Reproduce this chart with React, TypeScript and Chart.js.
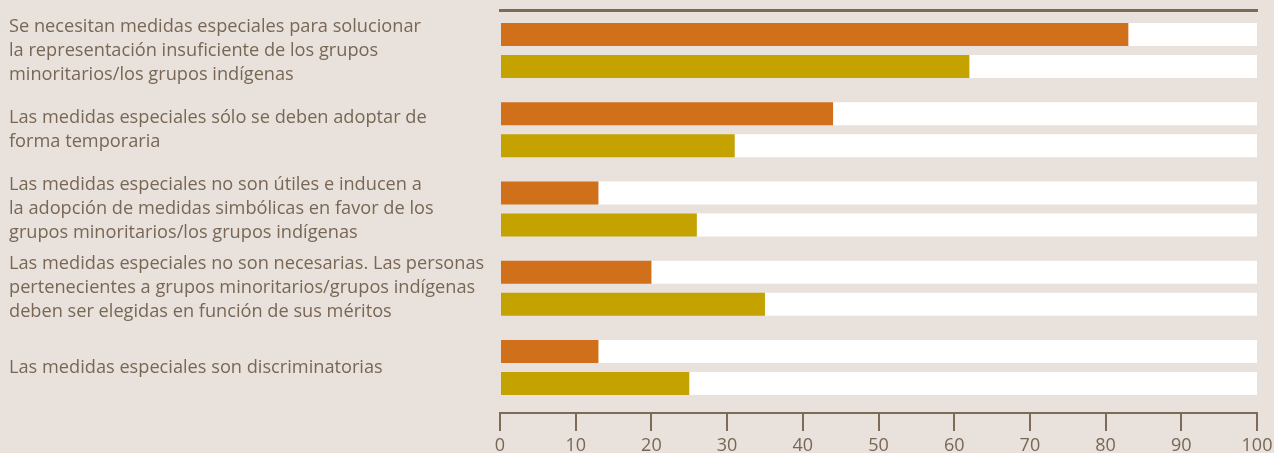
import React, { useEffect, useRef } from "react";
import { Chart, registerables } from "chart.js";

Chart.register(...registerables);

const categories: string[][] = [
  [
    "Se necesitan medidas especiales para solucionar",
    "la representación insuficiente de los grupos",
    "minoritarios/los grupos indígenas",
  ],
  ["Las medidas especiales sólo se deben adoptar de", "forma temporaria"],
  [
    "Las medidas especiales no son útiles e inducen a",
    "la adopción de medidas simbólicas en favor de los",
    "grupos minoritarios/los grupos indígenas",
  ],
  [
    "Las medidas especiales no son necesarias. Las personas",
    "pertenecientes a grupos minoritarios/grupos indígenas",
    "deben ser elegidas en función de sus méritos",
  ],
  ["Las medidas especiales son discriminatorias"],
];

const seriesOrange: number[] = [83, 44, 13, 20, 13];
const seriesGold: number[] = [62, 31, 26, 35, 25];
const scaleMax = 100;
const tickStep = 10;

const BG = "#e9e2dc";
const ORANGE = "#d0701b";
const GOLD = "#c4a300";
const TRACK = "#ffffff";
const TEXT = "#786755";
const AXIS = "#7d6b58";
const FONT = "'Open Sans'";

export default function App() {
  const ref = useRef<HTMLCanvasElement | null>(null);

  useEffect(() => {
    if (!ref.current) return;
    const idx = categories.map((_, i) => i);
    const chart = new Chart(ref.current, {
      type: "bar",
      data: {
        labels: idx,
        datasets: [
          {
            label: "A",
            data: seriesOrange,
            backgroundColor: ORANGE,
            stack: "a",
            borderWidth: 0,
          },
          {
            label: "A-rest",
            data: seriesOrange.map((v) => scaleMax - v),
            backgroundColor: TRACK,
            stack: "a",
            borderWidth: 0,
          },
          {
            label: "B",
            data: seriesGold,
            backgroundColor: GOLD,
            stack: "b",
            borderWidth: 0,
          },
          {
            label: "B-rest",
            data: seriesGold.map((v) => scaleMax - v),
            backgroundColor: TRACK,
            stack: "b",
            borderWidth: 0,
          },
        ],
      },
      options: {
        indexAxis: "y",
        animation: false,
        responsive: false,
        devicePixelRatio: 1,
        categoryPercentage: 0.8076,
        barPercentage: 0.71875,
        layout: { padding: { left: 9, right: 17, top: 10, bottom: 0 } },
        plugins: { legend: { display: false }, tooltip: { enabled: false } },
        scales: {
          x: {
            type: "linear",
            position: "bottom",
            stacked: true,
            min: 0,
            max: scaleMax,
            afterFit: (s: any) => {
              s.height = 40;
              s.paddingLeft = 0;
              s.paddingRight = 0;
            },
            ticks: {
              stepSize: tickStep,
              color: TEXT,
              padding: 4,
              maxRotation: 0,
              autoSkip: false,
              font: { family: FONT, size: 18 },
            },
            grid: {
              drawOnChartArea: false,
              drawTicks: true,
              tickLength: 18,
              lineWidth: 2,
              color: AXIS,
            },
            border: { display: true, width: 2, color: AXIS },
          },
          x2: {
            type: "linear",
            position: "top",
            display: true,
            afterFit: (s: any) => {
              s.height = 0;
              s.paddingLeft = 0;
              s.paddingRight = 0;
            },
            ticks: { display: false },
            grid: { display: false, drawTicks: false },
            border: { display: true, width: 3, color: AXIS },
          },
          y: {
            type: "linear",
            position: "left",
            stacked: true,
            reverse: true,
            offset: false,
            min: -0.511,
            max: 4.5741,
            afterFit: (s: any) => {
              s.width = 491;
              s.paddingTop = 0;
              s.paddingBottom = 0;
            },
            ticks: {
              stepSize: 1,
              includeBounds: false,
              autoSkip: false,
              crossAlign: "far",
              color: TEXT,
              font: { family: FONT, size: 18.2, lineHeight: 1.3187 },
              callback: (value: any) => {
                const v = Number(value);
                return Number.isInteger(v) && categories[v] ? categories[v] : "";
              },
            },
            grid: { display: false, drawTicks: false, offset: false },
            border: { display: false },
          },
        },
      },
    } as any);
    return () => chart.destroy();
  }, []);

  return (
    <div
      style={{
        position: "fixed",
        left: 0,
        top: 0,
        width: 1274,
        height: 453,
        background: BG,
      }}
    >
      <canvas ref={ref} width={1274} height={453} style={{ display: "block" }} />
    </div>
  );
}
